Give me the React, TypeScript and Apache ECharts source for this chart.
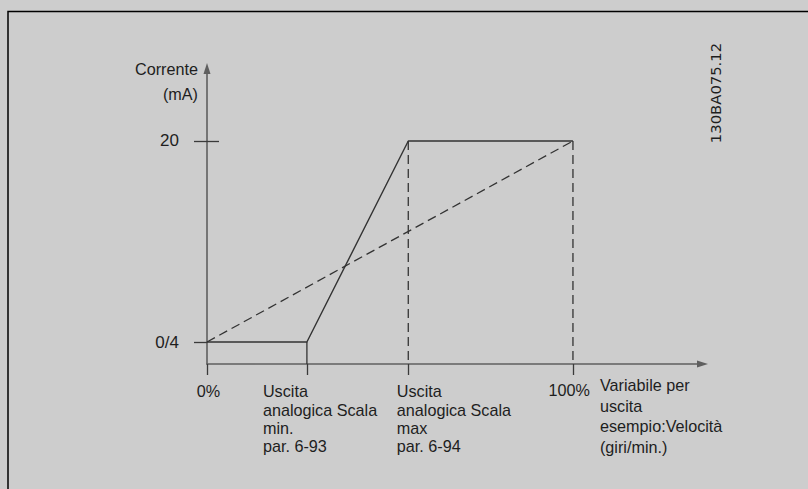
import React, { useEffect, useRef } from "react";
import * as echarts from "echarts";

// ---- data ----
const xTickValues = [0, 27.3, 55, 100];
const xTickLabels = [
  "0%",
  "Uscita\nanalogica Scala\nmin.\npar. 6-93",
  "Uscita\nanalogica Scala\nmax\npar. 6-94",
  "100%",
];
const yTickValues = [4, 20];
const yTickLabels = ["0/4", "20"];
const outputCurve: number[][] = [
  [0, 4],
  [27.3, 4],
  [55, 20],
  [100, 20],
];
const linearCurve: number[][] = [
  [0, 4],
  [100, 20],
];
const xRange = [0, 135.4];
const yRange = [2.25, 25.77];
const yAxisName = "Corrente\n(mA)";
const xAxisName = "Variabile per\nuscita\nesempio:Velocità\n(giri/min.)";
const docCode = "130BA075.12";

export default function App() {
  const ref = useRef<HTMLDivElement>(null);
  useEffect(() => {
    document.body.style.margin = "0";
    const chart = echarts.init(ref.current!, null, { renderer: "svg" });
    const font = "'Liberation Sans', Arial, sans-serif";
    const textColor = "#1e1e1e";
    const lineColor = "#333";
    const axisColor = "#5f5f5f";
    const dash = [9, 5];

    const vSeg = (p: number[]) => [
      [p[0], p[1]],
      [p[0], yRange[0]],
    ];

    chart.setOption({
      animation: false,
      backgroundColor: "#cdcdcd",
      grid: { left: 207, right: 105.5, top: 68.5, bottom: 125 },
      xAxis: {
        type: "value",
        min: xRange[0],
        max: xRange[1],
        axisLine: {
          show: true,
          onZero: false,
          symbol: ["none", "triangle"],
          symbolSize: [7, 11],
          lineStyle: { color: axisColor, width: 1.6 },
        },
        axisTick: {
          show: true,
          customValues: xTickValues,
          length: 11,
          lineStyle: { color: "#3a3a3a", width: 1.3 },
        },
        axisLabel: { show: false },
        splitLine: { show: false },
      },
      yAxis: [
        {
          type: "value",
          min: yRange[0],
          max: yRange[1],
          axisLine: {
            show: true,
            onZero: false,
            symbol: ["none", "triangle"],
            symbolSize: [7, 11],
            lineStyle: { color: axisColor, width: 1.6 },
          },
          axisTick: {
            show: true,
            customValues: yTickValues,
            length: 13,
            lineStyle: { color: "#3a3a3a", width: 1.3 },
          },
          axisLabel: {
            show: true,
            customValues: yTickValues,
            formatter: (v: number) => {
              const i = yTickValues.findIndex((t) => Math.abs(t - v) < 1e-6);
              return i >= 0 ? yTickLabels[i] : "";
            },
            margin: 28,
            color: textColor,
            fontSize: 17,
            fontFamily: font,
          },
          splitLine: { show: false },
        },
        {
          type: "value",
          min: yRange[0],
          max: yRange[1],
          position: "left",
          axisLine: { show: false },
          axisTick: {
            show: true,
            inside: true,
            customValues: [yTickValues[1]],
            length: 12,
            lineStyle: { color: "#3a3a3a", width: 1.3 },
          },
          axisLabel: { show: false },
          splitLine: { show: false },
        },
      ],
      series: [
        {
          type: "line",
          data: linearCurve,
          symbol: "none",
          lineStyle: { color: lineColor, width: 1.3, type: dash },
        },
        {
          type: "line",
          data: vSeg(outputCurve[2]),
          symbol: "none",
          lineStyle: { color: lineColor, width: 1.3, type: dash },
        },
        {
          type: "line",
          data: vSeg(outputCurve[3]),
          symbol: "none",
          lineStyle: { color: lineColor, width: 1.3, type: dash },
        },
        {
          type: "line",
          data: vSeg(outputCurve[1]),
          symbol: "none",
          lineStyle: { color: lineColor, width: 1.3 },
        },
        {
          type: "line",
          data: outputCurve,
          symbol: "none",
          lineStyle: { color: lineColor, width: 1.4 },
        },
      ],
    });

    const px = (x: number, y: number) =>
      chart.convertToPixel({ gridIndex: 0 }, [x, y]) as number[];

    const labelStyle = (text: string, align: string, lineHeight: number) => ({
      text,
      fill: textColor,
      fontSize: 16.2,
      fontFamily: font,
      align,
      verticalAlign: "top",
      lineHeight,
    });

    const tickLabelPlacement = [
      { dx: 1.5, dy: 18, align: "center" },
      { dx: -44, dy: 18, align: "left" },
      { dx: -11.5, dy: 18, align: "left" },
      { dx: 17, dy: 17, align: "right" },
    ];

    const graphics: any[] = [
      {
        type: "polyline",
        silent: true,
        shape: {
          points: [
            [8, 489],
            [8, 11.5],
            [808, 11.5],
          ],
        },
        style: { stroke: "#000", lineWidth: 1.5, fill: null },
      },
    ];

    xTickValues.forEach((v, i) => {
      const p = px(v, yRange[0]);
      const pl = tickLabelPlacement[i];
      graphics.push({
        type: "text",
        x: p[0] + pl.dx,
        y: p[1] + pl.dy,
        style: labelStyle(xTickLabels[i], pl.align, 18.4),
      });
    });

    const p100 = px(xTickValues[3], yRange[0]);
    graphics.push({
      type: "text",
      x: p100[0] + 27,
      y: p100[1] + 10.8,
      style: labelStyle(xAxisName, "left", 20.5),
    });

    const pTop = px(0, yRange[1]);
    graphics.push({
      type: "text",
      x: pTop[0] - 9,
      y: pTop[1] - 12,
      style: labelStyle(yAxisName, "right", 25),
    });

    graphics.push({
      type: "text",
      x: 715,
      y: 93,
      rotation: Math.PI / 2,
      style: {
        text: docCode,
        fill: textColor,
        fontSize: 14.8,
        fontFamily: "'DejaVu Sans', sans-serif",
        align: "center",
        verticalAlign: "middle",
      },
    });

    chart.setOption({ graphic: graphics });

    return () => chart.dispose();
  }, []);

  return <div ref={ref} style={{ width: 808, height: 489 }} />;
}
